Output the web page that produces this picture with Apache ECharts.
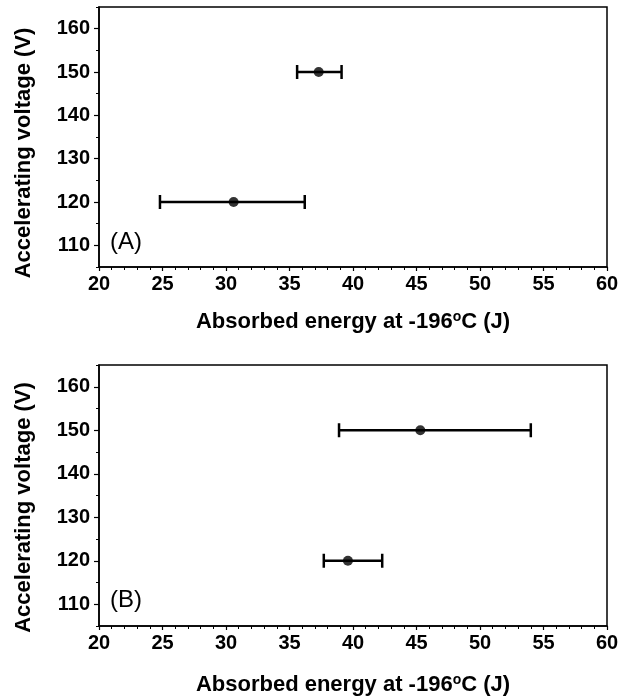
<!DOCTYPE html>
<html>
<head>
<meta charset="utf-8">
<script src="https://cdn.jsdelivr.net/npm/echarts@6/dist/echarts.min.js"></script>
<style>
html,body{margin:0;padding:0;background:#fff;}
#chart{width:634px;height:699px;}
</style>
</head>
<body>
<div id="chart"></div>
<script>
// ---- data ----
const voltages = [120, 150];
const energyA = [30.6, 37.3];
const errLowA = [24.8, 35.6];
const errHighA = [36.2, 39.1];
const energyB = [39.6, 45.3];
const errLowB = [37.7, 38.9];
const errHighB = [42.3, 54.0];
const xTicks = [20, 25, 30, 35, 40, 45, 50, 55, 60];
const yTicks = [110, 120, 130, 140, 150, 160];
const panelLabels = ['(A)', '(B)'];

const FONT = '"Liberation Sans", Arial, Helvetica, sans-serif';
const chart = echarts.init(document.getElementById('chart'));

const grids = [
  {left: 99, right: 27, top: 7, height: 260},
  {left: 99, right: 27, top: 365, height: 261}
];

function xAxisFor(gi, gap) {
  return {
    type: 'value', gridIndex: gi, min: 20, max: 60, interval: 5,
    position: 'bottom',
    name: 'Absorbed energy at -196{sup|o}C (J)',
    nameLocation: 'middle', nameGap: gap,
    nameTextStyle: {
      fontFamily: FONT, fontSize: 22, fontWeight: 'bold', color: '#000',
      rich: {sup: {fontFamily: FONT, fontSize: 14, fontWeight: 'bold', color: '#000', verticalAlign: 'top', padding: [0,0,9,0]}}
    },
    axisLine: {show: true, lineStyle: {color: '#000', width: 1.5}},
    axisTick: {show: true, inside: false, length: 4, lineStyle: {color: '#000', width: 1.2}},
    minorTick: {show: true, splitNumber: 5, length: 3, lineStyle: {color: '#000', width: 1}},
    axisLabel: {fontFamily: FONT, fontSize: 20, fontWeight: 'bold', color: '#000', margin: 7,
      customValues: xTicks},
    splitLine: {show: false}
  };
}
function yAxisMain(gi, pad) {
  return {
    type: 'value', gridIndex: gi, min: 105, max: 165, position: 'left',
    name: 'Accelerating voltage (V)',
    nameLocation: 'middle', nameGap: 64,
    nameTextStyle: {fontFamily: FONT, fontSize: 22, fontWeight: 'bold', color: '#000', padding: pad},
    axisLine: {show: true, lineStyle: {color: '#000', width: 1.5}},
    axisTick: {show: true, length: 5, customValues: yTicks, lineStyle: {color: '#000', width: 1.2}},
    axisLabel: {fontFamily: FONT, fontSize: 20, fontWeight: 'bold', color: '#000', margin: 9,
      customValues: yTicks},
    splitLine: {show: false}
  };
}
function yAxisMinor(gi) {
  return {
    type: 'value', gridIndex: gi, min: 105, max: 165, interval: 5, position: 'left',
    axisLine: {show: false},
    axisTick: {show: true, length: 3, lineStyle: {color: '#000', width: 1}},
    axisLabel: {show: false},
    splitLine: {show: false}
  };
}

function errSeries(xi, yi, low, high) {
  const data = voltages.map((v, i) => [low[i], high[i], v]);
  return {
    type: 'custom', xAxisIndex: xi, yAxisIndex: yi, z: 5,
    data: data,
    encode: {x: [0, 1], y: 2},
    renderItem: function (params, api) {
      const v = api.value(2);
      const p1 = api.coord([api.value(0), v]);
      const p2 = api.coord([api.value(1), v]);
      const h = 7;
      const style = {stroke: '#000', lineWidth: 2.5};
      return {type: 'group', children: [
        {type: 'line', shape: {x1: p1[0], y1: p1[1], x2: p2[0], y2: p2[1]}, style: style},
        {type: 'line', shape: {x1: p1[0], y1: p1[1] - h, x2: p1[0], y2: p1[1] + h}, style: style},
        {type: 'line', shape: {x1: p2[0], y1: p2[1] - h, x2: p2[0], y2: p2[1] + h}, style: style}
      ]};
    }
  };
}
function dotSeries(xi, yi, energy) {
  return {
    type: 'scatter', xAxisIndex: xi, yAxisIndex: yi, z: 6,
    symbol: 'circle', symbolSize: 10,
    itemStyle: {color: '#000'},
    data: voltages.map((v, i) => [energy[i], v])
  };
}

const option = {
  backgroundColor: '#fff',
  animation: false,
  grid: grids.map(g => Object.assign({show: true, borderColor: '#000', borderWidth: 1.5, backgroundColor: 'transparent'}, g)),
  xAxis: [xAxisFor(0, 43), xAxisFor(1, 47)],
  yAxis: [yAxisMain(0, [0, 32, 0, 0]), yAxisMinor(0), yAxisMain(1, [0, 24, 0, 0]), yAxisMinor(1)],
  series: [
    errSeries(0, 0, errLowA, errHighA),
    dotSeries(0, 0, energyA),
    errSeries(1, 2, errLowB, errHighB),
    dotSeries(1, 2, energyB)
  ],
  graphic: [
    {type: 'text', left: 110, top: 230, style: {text: panelLabels[0], font: '24px ' + FONT, fill: '#000'}},
    {type: 'text', left: 110, top: 588, style: {text: panelLabels[1], font: '24px ' + FONT, fill: '#000'}}
  ]
};
chart.setOption(option);
</script>
</body>
</html>
